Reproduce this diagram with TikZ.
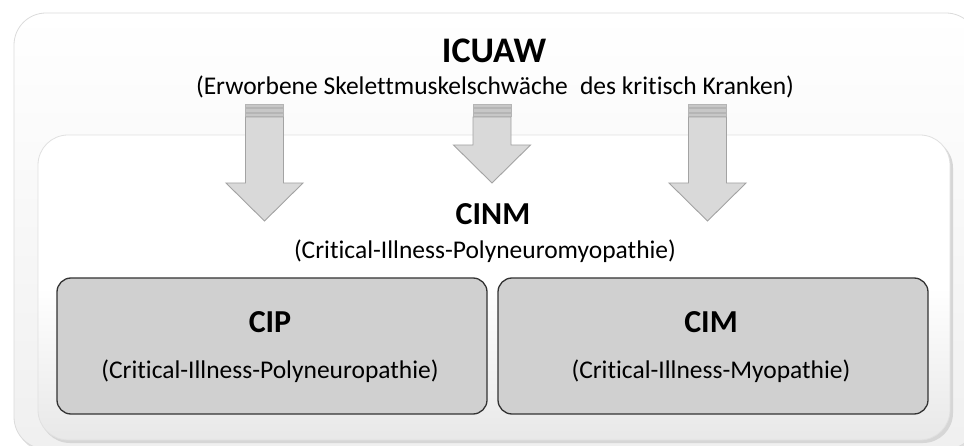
\documentclass[tikz,border=0pt]{standalone}
\usepackage{fontspec}
\setmainfont{Carlito}[Ligatures=NoCommon]
\usetikzlibrary{shadings}
\definecolor{arrowfill}{HTML}{D9D9D9}
\definecolor{arrowline}{HTML}{A3A3A3}
\definecolor{boxfill}{HTML}{D0D0D0}
\definecolor{boxline}{HTML}{333333}
\tikzset{
  title/.style={font=\fontsize{36}{40}\selectfont\bfseries, anchor=base, inner sep=0pt},
  subtitle/.style={font=\fontsize{32}{36}\selectfont\bfseries, anchor=base, inner sep=0pt},
  caption/.style={font=\fontsize{25.5}{30}\selectfont, anchor=base, inner sep=0pt},
  subbox/.style={draw=boxline, line width=1.3pt, fill=boxfill, rounded corners=14pt},
  blockarrow/.style={fill=arrowfill, draw=arrowline, line width=0.9pt},
  stripe/.style={fill=arrowfill!80!gray, draw=arrowline!80, line width=0.5pt},
}
% #1 centre x, #2 top y, #3 head start y, #4 tip y
\newcommand{\myblockarrow}[4]{%
  \fill[stripe] (#1-19,#2) rectangle (#1+19,#2+3);
  \fill[stripe] (#1-19,#2+4.5) rectangle (#1+19,#2+8);
  \fill[stripe] (#1-19,#2+9.5) rectangle (#1+19,#2+12.5);
  \draw[blockarrow] (#1-19,#2+13) -- (#1-19,#3) -- (#1-38.5,#3) -- (#1,#4)
     -- (#1+38.5,#3) -- (#1+19,#3) -- (#1+19,#2+13) -- cycle;
}
\begin{document}
\begin{tikzpicture}[x=1pt,y=-1pt]
\useasboundingbox (0,0) rectangle (964,446);
\begin{scope}
\clip (0,0) rectangle (964,446);
% outer panel shadow + panel
\fill[black!12, rounded corners=32pt] (16,16) rectangle (981,452);
\shade[top color=white, bottom color=black!6, rounded corners=32pt, draw=black!14, line width=0.8pt]
  (14,13) rectangle (978,449);
% inner panel shadow + panel
\fill[black!16, rounded corners=30pt] (40,138) rectangle (953,443);
\shade[top color=white, bottom color=black!9, middle color=white, rounded corners=30pt, draw=black!12, line width=0.8pt]
  (38,135) rectangle (950,440);
\end{scope}

% block arrows
\myblockarrow{264.5}{104}{183}{221}
\myblockarrow{492}{104}{145}{183}
\myblockarrow{707.5}{104}{183}{221}

% texts
\node[title] (icuaw) at (494,63) {ICUAW};
\node[caption] (icuawsub) at (495,95) {(Erworbene Skelettmuskelschwäche\hspace{0.25em} des kritisch Kranken)};
\node[subtitle] (cinm) at (493,225) {CINM};
\node[caption] (cinmsub) at (485,259) {(Critical-Illness-Polyneuromyopathie)};

% sub boxes
\draw[subbox] (57,278) rectangle (487,414);
\draw[subbox] (498,278) rectangle (928,414);
\node[subtitle] (cip) at (270,333) {CIP};
\node[caption] (cipsub) at (270,378) {(Critical-Illness-Polyneuropathie)};
\node[subtitle] (cim) at (711,333) {CIM};
\node[caption] (cimsub) at (711,378) {(Critical-Illness-Myopathie)};
\end{tikzpicture}
\end{document}
